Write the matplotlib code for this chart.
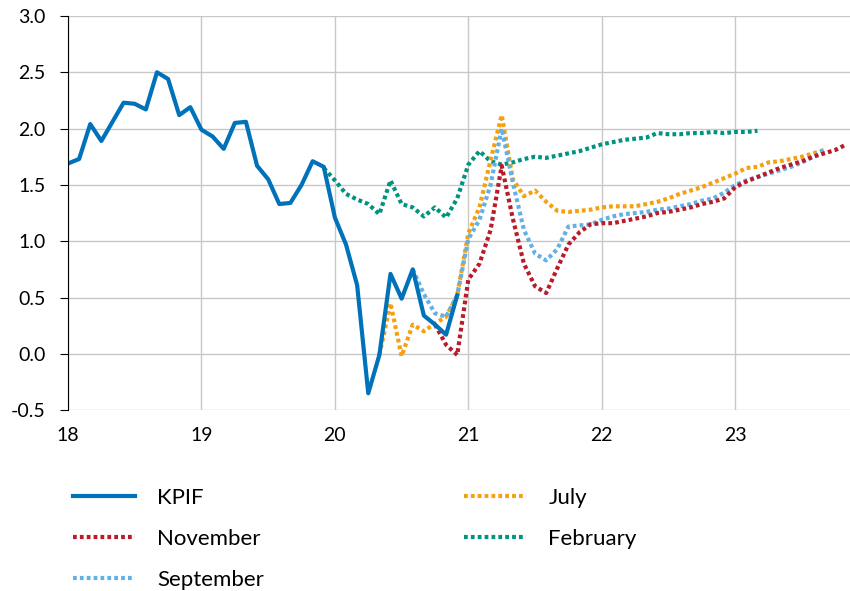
import numpy as np
import matplotlib
matplotlib.use("Agg")
import matplotlib.pyplot as plt

plt.rcParams['font.family'] = ['Lato', 'DejaVu Sans']

# outcome, monthly from Jan 2018
kpif = [1.69, 1.73, 2.04, 1.89, 2.06, 2.23, 2.22, 2.17, 2.50, 2.44, 2.12, 2.19,
        1.99, 1.93, 1.82, 2.05, 2.06, 1.67, 1.55, 1.33, 1.34, 1.50, 1.71, 1.66,
        1.21, 0.97, 0.61, -0.35, -0.01, 0.71, 0.49, 0.75, 0.34, 0.26, 0.17, 0.52]

# forecasts (start month index counted from Jan 2018)
feb_start = 23
february = [1.65, 1.54, 1.42, 1.37, 1.33, 1.24, 1.54, 1.33, 1.30, 1.22, 1.30, 1.21, 1.38,
            1.68, 1.80, 1.71, 1.68, 1.70, 1.73, 1.75, 1.74, 1.76, 1.78, 1.80, 1.83,
            1.86, 1.88, 1.90, 1.91, 1.92, 1.96, 1.95, 1.95, 1.96, 1.96, 1.97, 1.96,
            1.97, 1.97, 1.98]

jul_start = 28
july = [-0.01, 0.45, -0.02, 0.26, 0.20, 0.27, 0.33, 0.52,
        1.07, 1.30, 1.72, 2.12, 1.55, 1.40, 1.45, 1.35, 1.27, 1.26, 1.27, 1.28,
        1.30, 1.31, 1.31, 1.31, 1.33, 1.35, 1.38, 1.42, 1.45, 1.48, 1.52, 1.56,
        1.60, 1.65, 1.66, 1.70, 1.71, 1.73, 1.75, 1.78, 1.81]

sep_start = 31
september = [0.75, 0.53, 0.36, 0.33, 0.52,
             1.02, 1.19, 1.50, 2.00, 1.52, 1.10, 0.89, 0.83, 0.93, 1.13, 1.14, 1.15,
             1.19, 1.22, 1.24, 1.25, 1.26, 1.28, 1.29, 1.31, 1.33, 1.36, 1.38, 1.43,
             1.50, 1.54, 1.57, 1.60, 1.63, 1.66, 1.70, 1.75, 1.81]

nov_start = 33
november = [0.26, 0.08, -0.01,
            0.66, 0.80, 1.10, 1.67, 1.20, 0.80, 0.60, 0.54, 0.76, 0.97, 1.08, 1.15,
            1.16, 1.16, 1.18, 1.20, 1.22, 1.25, 1.26, 1.28, 1.30, 1.33, 1.35, 1.38,
            1.48, 1.53, 1.57, 1.61, 1.65, 1.68, 1.71, 1.75, 1.78, 1.81, 1.86]


def months(start, vals):
    return 18 + (start + np.arange(len(vals))) / 12


fig = plt.figure(figsize=(8.5, 5.91), dpi=100)
ax = fig.add_axes([0.08, 0.306, 0.92, 0.667])

dot = (0, (0.9, 0.75))
ax.plot(months(feb_start, february), february, color='#00937F', lw=3, ls=dot, label='February')
ax.plot(months(jul_start, july), july, color='#F5A00F', lw=3, ls=dot, label='July')
ax.plot(months(sep_start, september), september, color='#62B0E5', lw=3, ls=dot, label='September')
ax.plot(months(nov_start, november), november, color='#BA1B2A', lw=3, ls=dot, label='November')
ax.plot(months(0, kpif), kpif, color='#0072B9', lw=3, label='KPIF')

ax.set_xlim(18, 23.86)
ax.set_ylim(-0.5, 3.0)
ax.set_yticks(np.arange(-0.5, 3.01, 0.5))
ax.set_yticklabels([f"{v:.1f}" for v in np.arange(-0.5, 3.01, 0.5)])
ax.set_xticks(range(18, 24))
ax.grid(True, color='#C8C8C8', lw=1)
ax.set_axisbelow(True)
for s in ['top', 'right', 'bottom']:
    ax.spines[s].set_visible(False)
ax.spines['left'].set_color('black')
ax.tick_params(axis='y', length=6, direction='out', labelsize=14, pad=10)
ax.tick_params(axis='x', length=0, labelsize=14, pad=12)

handles, labels = ax.get_legend_handles_labels()
order = ['KPIF', 'November', 'September', 'July', 'February']
hmap = dict(zip(labels, handles))
fig.legend([hmap[k] for k in order], order, ncol=2, loc='upper left',
           bbox_to_anchor=(0.075, 0.19), frameon=False, fontsize=16,
           handlelength=2.8, handletextpad=1.0, columnspacing=9.0,
           labelspacing=0.95, borderaxespad=0)

fig.savefig('out.png', dpi=100)
